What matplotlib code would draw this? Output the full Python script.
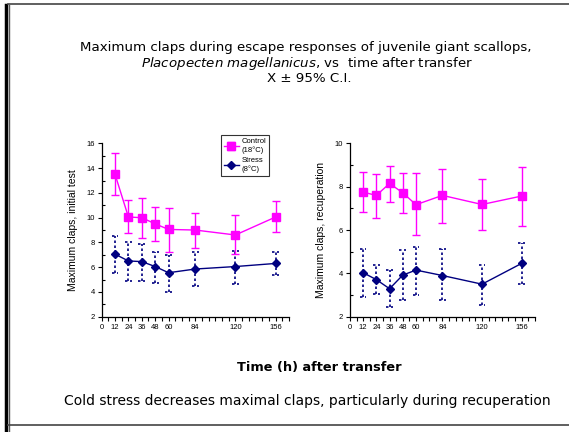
import matplotlib
matplotlib.use("Agg")
import matplotlib.pyplot as plt
from matplotlib.lines import Line2D
import numpy as np

# hours after transfer
hours = [12, 24, 36, 48, 60, 84, 120, 156]
tick_labels = [0, 12, 24, 36, 48, 60, 84, 120, 156]

# initial test
ctrl_init = [13.5, 10.05, 10.0, 9.5, 9.05, 9.0, 8.6, 10.05]
ctrl_init_hi = [15.2, 11.45, 11.55, 10.9, 10.8, 10.4, 10.2, 11.35]
ctrl_init_lo = [11.8, 8.75, 8.35, 8.15, 7.25, 7.55, 7.05, 8.85]
stress_init = [7.05, 6.5, 6.45, 6.05, 5.55, 5.85, 6.05, 6.3]
stress_init_hi = [8.5, 8.05, 7.9, 7.25, 7.0, 7.25, 7.3, 7.25]
stress_init_lo = [5.55, 4.9, 4.85, 4.7, 4.0, 4.5, 4.6, 5.35]

# recuperation
ctrl_recup = [7.75, 7.6, 8.15, 7.72, 7.17, 7.6, 7.18, 7.57]
ctrl_recup_hi = [8.7, 8.6, 8.97, 8.65, 8.65, 8.83, 8.37, 8.92]
ctrl_recup_lo = [6.83, 6.55, 7.3, 6.8, 5.75, 6.32, 6.0, 6.17]
stress_recup = [4.03, 3.71, 3.29, 3.92, 4.15, 3.9, 3.5, 4.46]
stress_recup_hi = [5.12, 4.37, 4.15, 5.06, 5.2, 5.12, 4.37, 5.42]
stress_recup_lo = [2.9, 3.03, 2.43, 2.75, 2.98, 2.75, 2.54, 3.5]

MAGENTA = "#ff00ff"
NAVY = "#000080"
plt.rcParams["font.family"] = ["Liberation Sans", "DejaVu Sans"]


def draw_panel(ax, ctrl, c_hi, c_lo, stress, s_hi, s_lo, ymin, ymax, ylabel):
    x = np.asarray(hours, dtype=float)
    ctrl = np.asarray(ctrl)
    stress = np.asarray(stress)
    yerr = [ctrl - np.asarray(c_lo), np.asarray(c_hi) - ctrl]
    ax.errorbar(x, ctrl, yerr=yerr, color=MAGENTA, marker="s", markersize=6,
                linewidth=1.0, elinewidth=1.0, capsize=3, capthick=1.0,
                label="Control\n(18°C)", zorder=3)
    # dotted confidence intervals for stress
    ax.vlines(x, s_lo, s_hi, colors=NAVY, linestyles=(0, (1.5, 1.5)), linewidth=1.2, zorder=2)
    for y in (s_lo, s_hi):
        ax.hlines(y, x - 3, x + 3, colors=NAVY, linestyles=(0, (1.5, 1.5)), linewidth=1.2, zorder=2)
    ax.plot(x, stress, color=NAVY, marker="D", markersize=4, linewidth=1.0,
            label="Stress\n(8°C)", zorder=3)

    ax.set_xlim(0, 168)
    ax.set_ylim(ymin, ymax)
    ax.set_xticks(np.arange(0, 169, 6), minor=True)
    ax.set_xticks(tick_labels)
    ax.set_xticklabels([str(t) for t in tick_labels])
    ax.set_yticks(np.arange(ymin, ymax + 1, 2))
    ax.set_yticks(np.arange(ymin, ymax + 1, 1), minor=True)
    ax.tick_params(axis="both", which="major", labelsize=5.5, length=3, width=0.8, pad=2)
    ax.tick_params(axis="x", which="minor", length=3, width=0.8, direction="out")
    ax.tick_params(axis="y", which="minor", length=2, width=0.8, direction="in")
    for s in ("top", "right"):
        ax.spines[s].set_visible(False)
    for s in ("left", "bottom"):
        ax.spines[s].set_linewidth(0.9)
    ax.set_ylabel(ylabel, fontsize=7.5, labelpad=6)


fig = plt.figure(figsize=(5.69, 4.32), dpi=100)
ax1 = fig.add_axes([0.1787, 0.267, 0.329, 0.401])
ax2 = fig.add_axes([0.615, 0.267, 0.325, 0.401])

draw_panel(ax1, ctrl_init, ctrl_init_hi, ctrl_init_lo,
           stress_init, stress_init_hi, stress_init_lo, 2, 16,
           "Maximum claps, initial test")
draw_panel(ax2, ctrl_recup, ctrl_recup_hi, ctrl_recup_lo,
           stress_recup, stress_recup_hi, stress_recup_lo, 2, 10,
           "Maximum claps, recuperation")

handles, labels = ax1.get_legend_handles_labels()
order = [labels.index("Control\n(18°C)"), labels.index("Stress\n(8°C)")]
leg = ax1.legend([handles[i] for i in order], [labels[i] for i in order],
                 loc="upper right", bbox_to_anchor=(0.915, 1.07), fontsize=5.5,
                 frameon=True, fancybox=False, edgecolor="black",
                 handlelength=2.0, borderpad=0.4, labelspacing=0.4, handletextpad=0.3)
leg.get_frame().set_linewidth(0.8)

tfont = ["DejaVu Sans"]
fig.text(0.537, 1 - 47 / 432, "Maximum claps during escape responses of juvenile giant scallops,",
         ha="center", va="center", fontsize=9.6, family=tfont)
fig.text(0.54, 1 - 63 / 432, "$\\it{Placopecten\\ magellanicus}$, vs  time after transfer",
         ha="center", va="center", fontsize=9.6, family=tfont)
fig.text(0.544, 1 - 78 / 432, "X ± 95% C.I.", ha="center", va="center", fontsize=9.6, family=tfont)
fig.text(0.562, 1 - 367 / 432, "Time (h) after transfer", ha="center", va="center",
         fontsize=9.3, family=tfont, weight="bold")
fig.text(0.54, 1 - 401 / 432, "Cold stress decreases maximal claps, particularly during recuperation",
         ha="center", va="center", fontsize=10, family=tfont)

# slide frame
fig.add_artist(Line2D([5.5 / 569, 5.5 / 569], [0, 1 - 5 / 432], color="black", linewidth=2.5))
fig.add_artist(Line2D([8.5 / 569, 8.5 / 569], [0, 1 - 5 / 432], color="#555555", linewidth=1.0))
fig.add_artist(Line2D([8 / 569, 1], [1 - 4 / 432, 1 - 4 / 432], color="#444444", linewidth=1.2))
fig.add_artist(Line2D([8 / 569, 1], [1 - 425 / 432, 1 - 425 / 432], color="#444444", linewidth=1.2))

fig.savefig("out.png", dpi=100)
plt.close(fig)
